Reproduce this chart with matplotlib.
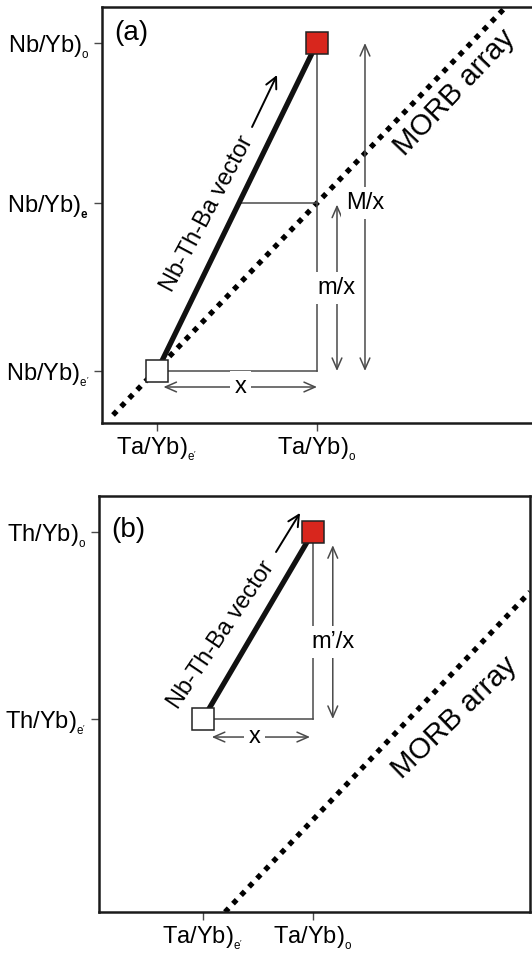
import matplotlib
matplotlib.use("Agg")
import matplotlib.pyplot as plt

plt.rcParams['font.family'] = ['Liberation Sans', 'DejaVu Sans']
plt.rcParams['mathtext.fontset'] = 'custom'
plt.rcParams['mathtext.rm'] = 'Liberation Sans'
plt.rcParams['mathtext.it'] = 'Liberation Sans:italic'
plt.rcParams['mathtext.bf'] = 'Liberation Sans:bold'

# ---------------- data (schematic units) ----------------
# panel (a)
a_x_ticks = [1.0, 2.0]
a_x_labels = [r"Ta/Yb)$_{_\mathregular{e'}}$", r"Ta/Yb)$_{_\mathregular{o}}$"]
a_y_ticks = [1.0, 2.05, 3.05]
a_y_labels = [r"Nb/Yb)$_{_\mathregular{e'}}$", r"Nb/Yb)$_{_\mathbf{e}}$", r"Nb/Yb)$_{_\mathregular{o}}$"]
a_start = (1.0, 1.0)          # open square  (Ta/Yb)e', Nb/Yb)e')
a_end = (2.0, 3.05)           # red square   (Ta/Yb)o, Nb/Yb)o)
a_morb_x = [0.725, 3.175]
a_morb_y = [0.725, 3.27]

# panel (b)
b_x_ticks = [1.0, 2.0]
b_x_labels = [r"Ta/Yb)$_{_\mathregular{e'}}$", r"Ta/Yb)$_{_\mathregular{o}}$"]
b_y_ticks = [1.0, 2.7]
b_y_labels = [r"Th/Yb)$_{_\mathregular{e'}}$", r"Th/Yb)$_{_\mathregular{o}}$"]
b_start = (1.0, 1.0)
b_end = (2.0, 2.7)
b_morb_x = [1.2, 3.973]
b_morb_y = [-0.755, 2.155]

RED = '#d8261d'
GREY = '#4a4a4a'
FS = 17

W, H = 532, 956
fig = plt.figure(figsize=(W / 100, H / 100), dpi=100)


def px_axes(l, t, r, b):
    return fig.add_axes([l / W, 1 - b / H, (r - l) / W, (b - t) / H])


def style_axes(ax, xt, xl, yt, yl, right=True):
    ax.set_xticks(xt)
    ax.set_xticklabels(xl)
    ax.set_yticks(yt)
    ax.set_yticklabels(yl)
    ax.tick_params(direction='out', length=6, width=1, color=GREY,
                   labelsize=FS, pad=3)
    for s in ['left', 'bottom', 'top', 'right']:
        ax.spines[s].set_linewidth(1.8)
        ax.spines[s].set_color('#1a1a1a')
    if not right:
        ax.spines['right'].set_visible(False)


def morb(ax, xs, ys):
    ax.plot(xs, ys, color='black', lw=3.8, linestyle=(0, (1.0, 1.2)),
            dash_capstyle='butt', zorder=2)


def vector(ax, s, e):
    ax.plot([s[0], e[0]], [s[1], e[1]], color='#111111', lw=3.8,
            solid_capstyle='butt', zorder=3)
    ax.plot([s[0]], [s[1]], marker='s', ms=16.5, mfc='white', mec='#222222',
            mew=1.1, zorder=5)
    ax.plot([e[0]], [e[1]], marker='s', ms=16.5, mfc=RED, mec='#222222',
            mew=1.1, zorder=5)


def guide(ax, xs, ys):
    ax.plot(xs, ys, color=GREY, lw=1.1, zorder=2)


def darrow(ax, p0, p1, label, lpos):
    ax.annotate('', xy=p1, xytext=p0,
                arrowprops=dict(arrowstyle='<->,head_length=0.8,head_width=0.35',
                                color=GREY, lw=1.1, shrinkA=0, shrinkB=0))
    ax.text(lpos[0], lpos[1], label, ha='center', va='center', fontsize=FS,
            bbox=dict(boxstyle='square,pad=0.2', fc='white', ec='none'),
            zorder=4)


def small_arrow(ax, p0, p1):
    ax.annotate('', xy=p1, xytext=p0,
                arrowprops=dict(arrowstyle='->,head_length=0.8,head_width=0.4',
                                color='black', lw=1.4, shrinkA=0, shrinkB=0))


# ---------------- panel (a) ----------------
axa = px_axes(102, 7, 532, 423)
axa.set_xlim(0.656, 3.344)
axa.set_ylim(0.675, 3.275)
style_axes(axa, a_x_ticks, a_x_labels, a_y_ticks, a_y_labels, right=False)

morb(axa, a_morb_x, a_morb_y)
guide(axa, [a_start[0], a_end[0]], [a_start[1], a_start[1]])
guide(axa, [a_end[0], a_end[0]], [a_start[1], a_end[1]])
x_mid = a_start[0] + (a_y_ticks[1] - a_start[1]) * (a_end[0] - a_start[0]) / (a_end[1] - a_start[1])
guide(axa, [x_mid, a_end[0]], [a_y_ticks[1], a_y_ticks[1]])
vector(axa, a_start, a_end)

darrow(axa, (1.04, 0.9), (2.0, 0.9), 'x', (1.52, 0.9))
darrow(axa, (2.125, 1.0), (2.125, 2.04), 'm/x', (2.125, 1.52))
darrow(axa, (2.3, 1.0), (2.3, 3.05), 'M/x', (2.3, 2.05))
small_arrow(axa, (1.594, 2.525), (1.75, 2.85))

axa.text(1.3125, 1.98, 'Nb-Th-Ba vector', rotation=62, rotation_mode='anchor',
         ha='center', va='center', fontsize=FS)
axa.text(2.8625, 2.7375, 'MORB array', rotation=46.5, rotation_mode='anchor',
         ha='center', va='center', fontsize=21)
axa.text(0.8375, 3.1125, '(a)', ha='center', va='center', fontsize=20)

# ---------------- panel (b) ----------------
axb = px_axes(99, 496, 530, 912)
axb.set_xlim(0.0545, 3.973)
axb.set_ylim(-0.7545, 3.027)
style_axes(axb, b_x_ticks, b_x_labels, b_y_ticks, b_y_labels, right=True)

morb(axb, b_morb_x, b_morb_y)
guide(axb, [b_start[0], b_end[0]], [b_start[1], b_start[1]])
guide(axb, [b_end[0], b_end[0]], [b_start[1], b_end[1]])
vector(axb, b_start, b_end)

darrow(axb, (1.08, 0.836), (1.973, 0.836), 'x', (1.47, 0.836))
darrow(axb, (2.18, 1.0), (2.18, 2.58), 'm\u2019/x', (2.18, 1.7))
small_arrow(axb, (1.664, 2.518), (1.882, 2.873))

axb.text(1.164, 1.764, 'Nb-Th-Ba vector', rotation=56, rotation_mode='anchor',
         ha='center', va='center', fontsize=FS)
axb.text(3.29, 1.01, 'MORB array', rotation=44, rotation_mode='anchor',
         ha='center', va='center', fontsize=21)
axb.text(0.318, 2.718, '(b)', ha='center', va='center', fontsize=20)

fig.savefig('out.png', dpi=100)
